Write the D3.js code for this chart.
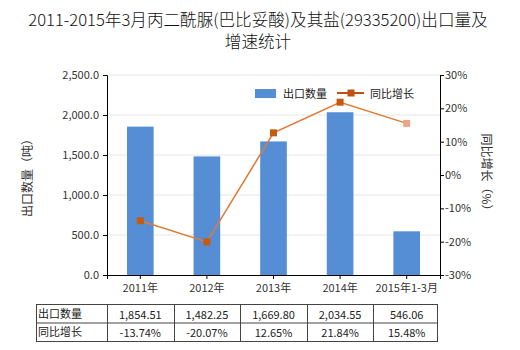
<!DOCTYPE html>
<html><head><meta charset="utf-8">
<script src="https://cdn.jsdelivr.net/npm/d3@7"></script>
<style>body{margin:0;background:#fff;} svg{display:block;font-family:"Noto Sans CJK SC","Microsoft YaHei",sans-serif;}</style>
</head><body>
<script>
const categories = ["2011年","2012年","2013年","2014年","2015年1-3月"];
const exportQty = [1854.51, 1482.25, 1669.80, 2034.55, 546.06];
const growth = [-13.74, -20.07, 12.65, 21.84, 15.48];
const qtyLabels = ["1,854.51","1,482.25","1,669.80","2,034.55","546.06"];
const growthLabels = ["-13.74%","-20.07%","12.65%","21.84%","15.48%"];
const leftTicks = [0, 500, 1000, 1500, 2000, 2500];
const rightTicks = [-30, -20, -10, 0, 10, 20, 30];
const titleLines = ["2011-2015年3月丙二酰脲(巴比妥酸)及其盐(29335200)出口量及","增速统计"];
const seriesNames = ["出口数量","同比增长"];

const W = 520, H = 350;
const m = {left:107, right:440, top:75, bottom:275};
const svg = d3.select("body").append("svg").attr("width",W).attr("height",H);

// title
svg.append("g").selectAll("text").data(titleLines).join("text")
  .attr("x",258).attr("y",(d,i)=>26+i*22).attr("text-anchor","middle")
  .attr("font-size",16.6).attr("font-weight",300).attr("fill","#111").text(d=>d);

const x = d3.scaleBand().domain(categories).range([m.left,m.right]);
const yL = d3.scaleLinear().domain([0,2500]).range([m.bottom,m.top]);
const yR = d3.scaleLinear().domain([-30,30]).range([m.bottom,m.top]);

// grid
svg.append("g").selectAll("line").data(leftTicks.slice(1)).join("line")
  .attr("x1",m.left).attr("x2",m.right).attr("y1",d=>yL(d)).attr("y2",d=>yL(d))
  .attr("stroke","#e3e8e8").attr("stroke-width",1);

// bars
const bw = x.bandwidth()*0.4;
svg.append("g").selectAll("rect").data(exportQty).join("rect")
  .attr("x",(d,i)=>x(categories[i])+x.bandwidth()/2-bw/2)
  .attr("width",bw)
  .attr("y",d=>yL(d)).attr("height",d=>yL(0)-yL(d))
  .attr("fill","#558ed5");

// axes
const axL = svg.append("g").attr("transform",`translate(${m.left},0)`)
  .call(d3.axisLeft(yL).tickValues(leftTicks).tickSize(4).tickFormat(d3.format(",.1f")));
const axR = svg.append("g").attr("transform",`translate(${m.right},0)`)
  .call(d3.axisRight(yR).tickValues(rightTicks).tickSize(4).tickFormat(d=>d+"%"));
const axB = svg.append("g").attr("transform",`translate(0,${m.bottom})`)
  .call(d3.axisBottom(x).tickSize(4));
[axL,axR,axB].forEach(a=>{
  a.selectAll("path").attr("stroke","#000");
  a.selectAll("line").attr("stroke","#000");
  a.selectAll("text").attr("font-size",11).attr("fill","#333")
   .attr("font-family",'"Noto Sans CJK SC",sans-serif');
});
axL.selectAll("text").attr("dx",-1);
axR.selectAll("text").attr("dx",-2);
axB.selectAll("text").attr("dy","0.9em");

// axis titles
svg.append("text").attr("transform","translate(32,175) rotate(-90)")
  .attr("text-anchor","middle").attr("font-size",12).attr("fill","#333").text("出口数量（吨）");
svg.append("text").attr("transform","translate(482,175) rotate(90)")
  .attr("text-anchor","middle").attr("font-size",12).attr("fill","#333").text("同比增长（%）");

// line
const cx = i => x(categories[i]) + x.bandwidth()/2;
const line = d3.line().x((d,i)=>cx(i)).y(d=>yR(d));
svg.append("path").datum(growth).attr("d",line).attr("fill","none")
  .attr("stroke","#e07a35").attr("stroke-width",1.5);
svg.append("g").selectAll("rect").data(growth).join("rect")
  .attr("x",(d,i)=>cx(i)-3.5).attr("y",d=>yR(d)-3.5).attr("width",7).attr("height",7)
  .attr("fill",(d,i)=>i===growth.length-1?"#eca58a":"#c55a11");

// legend
const lg = svg.append("g");
lg.append("rect").attr("x",255).attr("y",89).attr("width",21).attr("height",9).attr("fill","#558ed5");
lg.append("text").attr("x",283).attr("y",98).attr("font-size",11).attr("fill","#222").text(seriesNames[0]);
lg.append("line").attr("x1",337).attr("x2",364).attr("y1",93).attr("y2",93).attr("stroke","#c0500f").attr("stroke-width",2);
lg.append("rect").attr("x",347.5).attr("y",89.5).attr("width",7).attr("height",7).attr("fill","#c0500f");
lg.append("text").attr("x",370).attr("y",98).attr("font-size",11).attr("fill","#222").text(seriesNames[1]);

// table
const tTop = 304, rowH = 18.5, tLeft = 36;
const rows = [[seriesNames[0], qtyLabels],[seriesNames[1], growthLabels]];
const tg = svg.append("g");
rows.forEach((r,ri)=>{
  const y0 = tTop + ri*rowH;
  tg.append("text").attr("x",tLeft+2).attr("y",y0+13.5).attr("font-size",11).attr("fill","#222").text(r[0]);
  tg.selectAll(null).data(r[1]).join("text")
    .attr("x",(d,i)=>cx(i)).attr("y",y0+14.5).attr("text-anchor","middle")
    .attr("font-size",11).attr("fill","#222").text(d=>d);
});
const tBottom = tTop + rowH*2;
const tRight = m.right - 3;
[tTop, tTop+rowH, tBottom].forEach(y=>{
  tg.append("line").attr("x1",tLeft).attr("x2",tRight).attr("y1",y+0.5).attr("y2",y+0.5).attr("stroke","#444");
});
const vlines = [tLeft].concat(categories.map(c=>x(c))).concat([tRight]);
vlines.forEach(v=>{
  tg.append("line").attr("x1",Math.round(v)+0.5).attr("x2",Math.round(v)+0.5).attr("y1",tTop).attr("y2",tBottom+1).attr("stroke","#444");
});
</script>
</body></html>
